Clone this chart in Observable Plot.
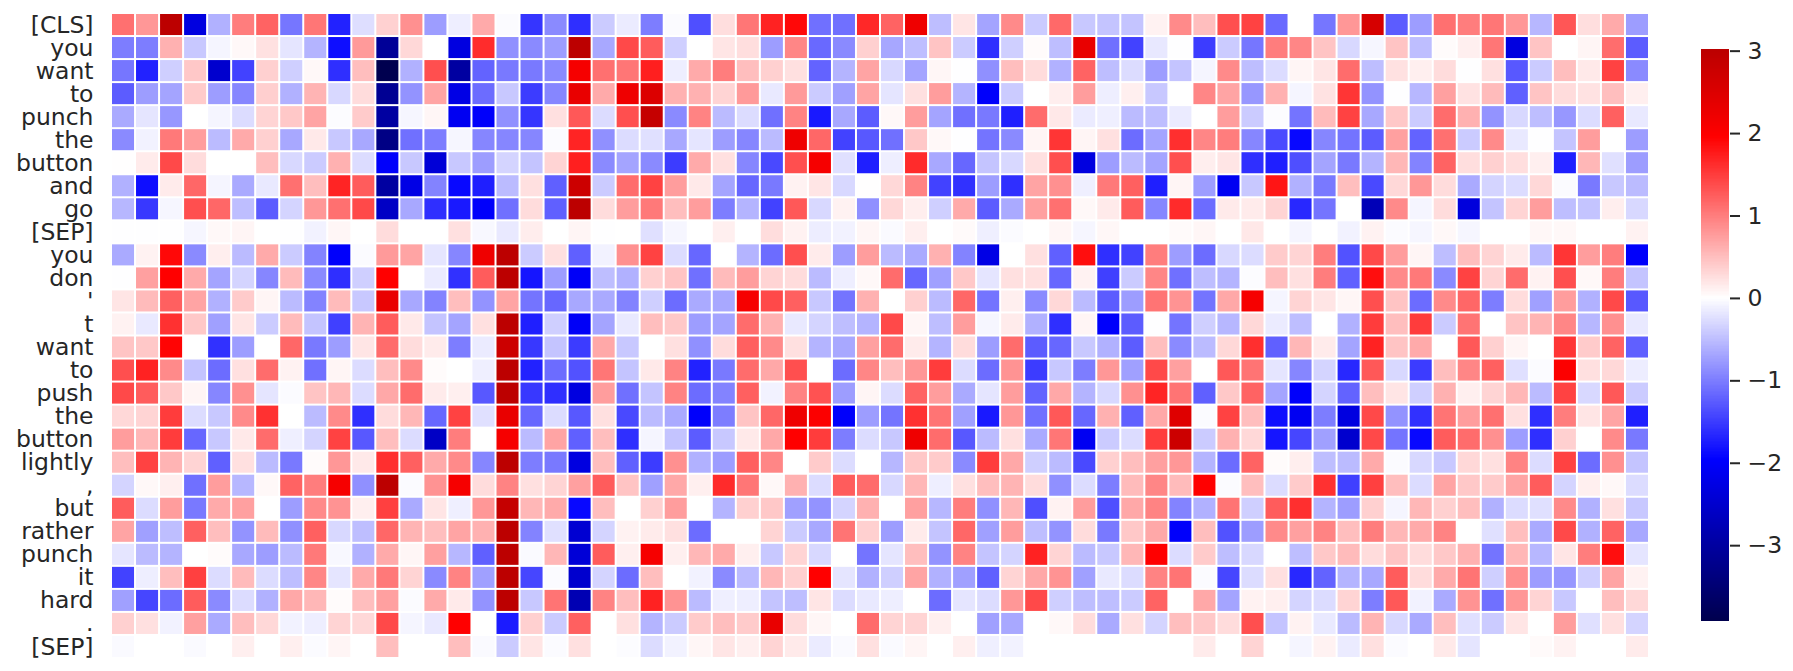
<!DOCTYPE html>
<html>
<head>
<meta charset="utf-8">
<script src="https://cdn.jsdelivr.net/npm/d3@7"></script>
<script src="https://cdn.jsdelivr.net/npm/@observablehq/plot@0.6"></script>
<style>
html,body{margin:0;padding:0;background:#fff}
#wrap{position:relative;width:1793px;height:671px;overflow:hidden}
#wrap>svg{position:absolute;top:0}
</style>
</head>
<body>
<div id="wrap"></div>
<script>
const tokens = ["[CLS]","you","want","to","punch","the","button","and","go","[SEP]","you","don","'","t","want","to","push","the","button","lightly",",","but","rather","punch","it","hard",".","[SEP]"];

const r00 = [1.1,.8,3.0,-2.3,-.6,1.0,1.2,-1.05,1.05,-1.7,-.25,.35,.85,-.75,-.13,.65,-.03,-1.55,-.9,-1.6,-.4,-.15,-1,-.03,-1.35,.25,1.05,1.7,1.9,-1.1,-1.1,1.65,1.2,2.2,-.5,.2,-.7,.9,-.4,1.15,-.42,-.45,-.45,.1,.9,.5,1.35,1.45,-1.15,0,-1.05,.8,2.6,-1.25,-.75,1.1,1.0,1.05,.8,-.55,1.3,.25,.65,-.75];
const r01 = [-1,-1,.6,-.42,-.08,.05,.23,-.2,-.58,-1.85,.78,-3.1,.3,0,-2.3,1.62,-.85,-.9,-.75,3.0,-.67,1.4,1.25,-.37,0,.2,.25,-.75,.93,-1.15,-.9,.36,-.68,-.5,.45,-.4,-1.6,-.37,.03,-.5,2.3,-1.1,-1.45,-.18,-.01,-1.5,-.4,-1.05,1,.93,.45,-.3,-.07,.45,-.5,.03,.12,1.05,-2.3,.45,0,.08,1.12,-1.25];
const r02 = [-1.05,-1.7,-.37,.42,-2.5,-1.45,.36,-.37,.05,-1.6,.5,-3.9,-.6,1.35,-3.0,-1.2,-1.03,-1.03,-.9,2.1,1.1,1.05,1.72,-.13,.65,1,.5,.36,.24,-1.2,-.58,.7,-.3,-.7,.07,-.01,-.85,.5,.27,-.6,1.2,-.5,-.27,-.75,-.45,-.08,.9,-.5,-.27,.08,.2,1.13,-.5,.23,.12,.27,-.01,.24,-1.28,-.4,.5,.17,1.45,-.9];
const r03 = [-1.25,-.75,-.7,.4,-.75,-.93,.37,-.6,.58,-.3,.27,-3.15,-.83,.7,-2.25,-1.13,-.42,-1.5,-.93,2.3,.65,2.2,2.5,.6,.6,.33,.78,-.17,.78,-.4,-.73,.7,-.2,.24,.75,-.58,-2,-.4,0,.13,.75,-.13,.12,-.42,0,.93,.7,-.8,.6,-.08,.22,1.55,-.83,-.01,-.55,.73,.22,.52,-1.22,.45,.27,.22,.5,.12];
const r04 = [-.65,-.2,-.8,0,-.08,-.27,.33,.42,.7,-.02,.4,-3.0,-.07,.07,-2.1,-2,-.85,-1.55,.24,1.28,-.27,1.35,2.85,-.9,.95,-.52,-.27,-1.1,.95,-1.77,-.67,-1.25,.05,.75,-.7,-1.1,-1.03,-1.72,1.13,.18,-.15,-.12,-.52,-.5,-.15,0,.75,-.4,-.02,-1.07,.52,1.45,-.67,.42,-.4,1.13,.6,-.83,-.3,-.5,-.8,-.27,1.22,-.17];
const r05 = [-.9,-.1,1.03,.75,-.52,.65,.36,-.67,.17,-.42,-.67,-3.3,-1.1,-1,-.07,-.93,-.93,-.93,-.03,1.68,-.85,-.27,-.24,-.67,-.2,-.75,-.93,-.52,2.2,1.17,-1.45,-1.28,-1.1,.42,.05,-.01,-1.07,-.9,.08,1.55,.08,.24,-1.13,-.7,1.6,.93,1,-.93,-1.4,-1.9,-.93,-1.07,-1.25,.73,-1.2,1.1,-.4,.9,-.17,-.01,-.45,.75,0,-.75];
const r06 = [.01,.15,1.4,.27,0,0,.5,-.3,-.4,.6,-.27,-2,-.42,-2.4,-.42,-.75,-.33,-.45,.33,1.72,-.9,-.7,-.9,-1.5,.65,.24,-.93,-1.4,1.35,2.1,-.24,-1.72,-.13,1.63,-.67,-1.17,-.45,-.3,.24,1.35,-2.3,-.75,-.52,-.7,1.35,.13,.2,-1.6,-1.72,-1.35,-.7,-1.03,-.58,.55,-.95,1.2,.25,.36,.25,.12,-1.72,.55,-.24,-.75];
const r07 = [-.6,-1.85,.15,1.17,-.08,-.65,-.17,1.1,.5,1.68,1.25,-3,-2.25,-.95,-1.9,-1.72,-.52,.24,-1.22,2.75,-.4,1.13,1.45,.75,.17,-.7,-1.17,-1.03,.1,.2,-.3,.01,.3,.95,-1.45,-1.58,-.75,-1.6,.7,.85,-.12,1.03,1.22,-1.72,.08,-.75,-2.1,-.42,1.8,-.6,-1.03,.5,-1.4,.3,.8,.27,-.65,-.33,-.27,.3,-.03,-1.03,-.42,-.52];
const r08 = [-.55,-1.53,-.07,1.35,1.17,-.5,-1.25,-.33,.8,1.1,1.4,-2.6,-.67,-1.6,-1.77,-2,-1.1,.27,-1.22,3.0,.27,.75,1.03,.5,.75,-1,-.58,-1.45,1.28,-.3,.1,-.85,.3,.13,-.37,.65,-1.25,-.65,.73,1.1,.05,.16,1.25,-.93,1.63,-1.13,.16,.15,.33,-1.65,-1.07,0,-2.75,.9,-.08,.27,-2.35,-.45,.33,.75,-.5,-.45,.13,-.3];
const r09 = [-.01,-.01,-.01,-.07,.05,.08,0,-.01,-.1,.07,0,.27,0,0,.24,-.05,-.17,.14,0,.08,-.01,0,-.24,-.07,0,.12,0,.26,.1,-.14,-.1,.07,-.04,.12,0,.04,-.12,-.03,0,.07,-.07,.06,0,0,.04,.07,0,.18,0,-.08,0,-.1,.1,-.03,-.07,.05,-.07,0,0,.06,.05,0,0,.1];
const r10 = [-.65,.1,1.9,-.9,.13,-.52,.65,-.4,-.95,-2,-.03,.78,.7,-.2,-.93,2.2,3.0,-.4,.24,-1.22,-.1,.85,1.45,-.27,-1.17,0,-.58,-1.13,1.35,.15,-.75,.75,-.52,-.65,.6,-.95,-2.25,0,.24,-1.22,1.85,-1.6,-1.45,1,-.75,-1.13,-.3,-.27,.4,.33,1,-1.33,1.4,.75,.08,-.5,.5,.33,.15,-.52,1.55,.75,1,-2];
const r11 = [-.01,.73,1.96,.65,-.7,-.33,-.93,.52,-.9,-1.6,-.37,1.96,0,-.15,-1.58,1.25,3.0,-1.8,-.75,-2.05,-.5,-.6,.36,.45,-1.1,.52,.75,.33,.27,-.52,-.13,.05,1.13,-1.17,-.73,.42,-.2,.24,.24,-1.17,.1,-1.47,-.4,.93,-1.1,-.5,-.58,-.02,.5,.24,1,-1.22,1.85,.9,1.03,-.9,1.45,.33,1.13,.1,1.35,.05,1,-.45];
const r12 = [.2,.52,1.22,.7,-.6,.4,.08,-.52,-.95,.52,-.42,2.3,-.67,-.95,.5,-.83,.7,-1.07,-1.17,-.67,-.65,-.95,-.37,-1.13,-.65,-.67,2.1,1.4,1.22,-.42,-1.07,.6,0,.36,-.52,1.17,-1.07,.12,-.9,.3,-.52,-1.25,-.75,1.07,.83,-1.07,.67,2.1,-.08,.33,.2,.07,1.35,.45,-1.13,.9,1.17,-1,.27,-.73,.75,-.6,1.4,-1.28];
const r13 = [.1,-.17,1.58,.42,-.73,.2,-.4,.52,-.45,-1.47,.58,1.25,.17,-.45,-.7,.24,3.0,-1.72,-.37,-2.05,-.7,-.17,.5,.42,-.75,-.7,1.13,.6,-.17,-.33,-.5,-.58,1.4,.07,-.5,.75,-.07,.15,-.6,-1.6,.08,-2,-1.25,-.01,-1.07,-.37,-.55,.3,-.15,-.5,0,-.6,1.5,.5,1.5,-.4,1.07,0,.45,.58,.93,-.55,.85,-.17];
const r14 = [.45,.42,1.93,0,-1.58,-.75,0,1.17,-1.03,-.75,.2,1.13,.27,.15,-1,-.15,2.75,-1.53,-.45,-1.5,.67,-.42,0,.24,-.85,.27,1.22,.9,.24,-.58,-.67,.73,1.13,.15,-.58,.27,-.75,1.13,-1.25,-1.17,-.42,-.6,-1.25,.5,-.9,-.52,.3,1.6,-1.22,.55,.15,-.7,1.7,.45,.65,0,1.28,.36,.08,0,1.55,.4,1.2,-1.22];
const r15 = [1.35,1.7,.9,-.45,-1.13,.24,1.13,.1,-1.1,.08,-.27,.5,.9,.03,0,-.12,3.0,-1.7,-1.13,-1.33,1.05,-.45,.17,.95,-1.7,-1.03,1.13,.67,1.35,0,-1.13,.93,.5,.8,1.5,-.27,-1.13,.83,-1.5,-.42,-1,.8,-.73,1.4,.73,0,1.28,1.07,-.2,-.93,-.33,-1.65,1.28,-.3,-1.5,.5,.93,1.22,-.24,-.03,2.0,.24,.3,-.14];
const r16 = [1.4,1.25,.42,.08,-.93,.85,-.2,-.03,.45,.55,-.27,.67,1.13,.15,.12,-1.28,3.0,-1.53,-1.6,-2.3,.75,-1.1,-.45,.95,-1.13,-.95,1.22,-.1,.95,1.33,-.75,.08,-.27,1.2,.75,-.65,-.2,.75,-1.2,.67,-.58,-.3,.85,1.68,1.07,-1.22,.42,1.2,-.7,-2,-.33,-1.2,.5,.2,-.37,.6,.12,.33,.55,-.52,1.45,-.3,1.28,-.4];
const r17 = [.3,.33,1.5,-.27,-.42,.9,1.58,0,-.52,.9,-1.6,.27,.55,-1.17,1.45,-.24,2.3,-1.17,-.27,-1.28,.24,-1.4,-.52,-.65,-2,-1,.45,1.17,2.2,2.0,-2,-.75,-1.07,1.58,1.07,-.73,-1.77,.8,-1.1,1.28,-1.17,.6,-1.22,.67,2.45,-.03,1.45,.5,-1.85,-2.1,-1,-2.3,1.4,-.83,-1.58,1.07,.75,1.1,.24,-1.6,1,.2,.7,-1.72];
const r18 = [.75,.55,1.5,-1.17,-.42,.17,1.13,-.12,-.33,1.45,-1.28,.5,-.27,-2.6,1,0,2.1,-.52,.7,-1.22,.5,-1.6,-.08,-.45,-1.25,-.42,.17,.67,1.96,1.5,-1,-.27,-.42,2.2,1.13,-1.28,-.52,.24,-.65,1.05,-2.1,-.4,-.27,1.5,2.75,-.4,.6,.3,-1.8,-1.42,-.73,-2.5,1.4,-1.07,-1.9,1.25,1.13,.85,-.75,-1.6,.36,0,.9,-1.03];
const r19 = [.5,1.45,.58,.33,-1.22,.24,-.52,-1.03,.03,.8,.17,1.6,1.22,.65,.9,-.93,3.0,-1,-1.03,-2.3,.5,-1.22,-1.5,.85,-.6,-.75,1.22,.93,0,.4,-.27,0,-.55,.42,.4,-.9,1.5,.67,-.37,-.52,-1.4,.36,.5,.73,.8,-.58,-1.13,1.2,.03,.13,-.5,-.52,.65,-.03,-.3,-.42,.3,.24,.95,-.27,1.45,-1.13,.85,-.45];
const r20 = [-.33,.05,.12,-1.1,.75,-.55,.05,1.2,1,2.1,-.85,3.0,-.03,.83,2.1,.27,.95,.24,.33,.73,1.25,.45,-.73,.67,.12,1.63,1.05,.05,.6,-.27,1.25,1.13,-.3,.55,-.13,.24,.5,.58,.27,-.85,-.27,-1,.52,.93,.52,1.96,-.03,.5,-.27,.4,1.58,-1.47,1.47,.5,-.27,.7,.42,.4,.7,1.25,-.33,.12,.05,-.27];
const r21 = [1.25,-.27,.75,-1.03,.65,.73,0,-.75,.9,.83,.12,1.47,-.65,.2,-.12,.8,2.85,.55,.65,-1.9,.5,0,.36,.75,0,-.58,.36,.42,-.73,-.83,-.33,.6,0,.73,-.55,1,-.85,.55,-1.35,.1,.75,-1.35,.67,.95,-.95,-.6,1.07,-.37,1.25,1.6,-.58,-.75,.36,-.08,.55,.36,.5,-.6,-.27,-.24,.9,-.6,.24,-.42];
const r22 = [.7,-.73,-.5,1.22,.5,-.83,.52,-.85,1.22,-.3,-.5,1.17,.58,.5,.7,.6,3.0,-.95,-.24,-2.45,-.33,.1,.15,.24,-1.13,0,0,.33,-.4,-.67,1.07,.36,-.75,.15,-.45,1.17,-.73,.75,-.5,-.83,.27,-1.03,.42,.67,-2,.5,-1.33,-.75,.9,.73,.95,.5,1,.55,.65,.95,0,-.24,.5,-.65,1.4,-.6,1.2,-.67];
const r23 = [-.2,-.52,-.58,0,.03,-.67,-.75,-.52,1.03,-.05,-.6,.65,.07,.73,-.55,-1.22,3.0,-.04,.55,-2.4,1.25,.12,2.1,.12,.55,.65,.12,-.42,.33,-.3,0,-1.07,-.2,.5,-.83,.95,-.45,-.33,1.7,.33,-.52,-.42,.55,1.96,-.27,.4,-.5,-.3,0,-.5,.42,.52,.27,.45,.27,.42,.6,-1.07,.55,-.55,.2,1,1.85,-.2];
const r24 = [-1.45,-.13,.5,1.47,-.27,.52,-.27,-.5,.93,-.2,.65,1.03,.33,-.9,.95,-.73,3.0,-1.42,-.03,-2.5,-.33,-1.13,.5,0,-.1,-.9,-.52,.55,.36,1.96,-.2,-.6,-.37,.7,-.6,-.73,-1.22,.33,.67,.83,-.73,-.17,-.27,.95,1.07,-.03,-1.42,-.27,.24,-1.65,-1.2,-.58,-.67,1.25,.27,.65,1.07,-.37,.85,-.75,-.8,-.37,.7,.1];
const r25 = [-.73,-1.42,-1.13,1.25,-.9,-.27,-.6,.67,.55,.03,.5,.73,-.03,.65,.16,-.83,3.0,-.42,1.07,-2.8,.95,.5,1.7,.83,-.52,-.12,-.13,-.45,-.5,.2,-.27,-.17,-.13,0,-1.13,-.2,-.27,.8,1.4,-.37,-.5,-.5,-.4,1.2,0,.67,-.7,.1,.12,-.33,-.27,.33,-1,1.28,-.1,-.65,.83,-1.1,.8,.33,-.42,0,.5,.3];
const r26 = [.36,.24,-.1,.73,-.65,.5,.3,-.1,-.13,.33,.3,1.4,-.08,-.17,1.96,0,-1.75,.36,-.4,1.22,0,.24,-.58,-.4,.4,.5,.4,2.3,.27,.07,0,1.13,.33,.33,.12,0,-.73,-.67,0,.05,.27,-.65,.24,-.33,.5,.42,.27,1.35,-.45,.1,-.17,-.52,.58,-.3,-.65,.5,-.24,-.4,.2,0,.75,-.24,.24,-.33];
const r27 = [-.04,0,0,-.04,0,.12,0,.12,-.03,.08,0,.5,0,0,.5,-.04,-.4,.2,-.03,.24,0,-.02,-.27,-.1,.07,.2,.12,.33,.16,-.15,-.04,.24,-.04,.08,0,.12,-.12,-.1,0,0,0,0,0,0,0,.15,0,.33,0,-.08,.1,-.15,.24,-.03,0,.17,-.2,0,0,.04,.1,0,0,.15];

const rowValues = [r00,r01,r02,r03,r04,r05,r06,r07,r08,r09,r10,r11,r12,r13,r14,r15,r16,r17,r18,r19,r20,r21,r22,r23,r24,r25,r26,r27];
const cbarTicks = [-3,-2,-1,0,1,2,3];
const dataMin = -3.92, dataMax = 3.02;

const cells = rowValues.flatMap((vals,row)=>vals.map((value,col)=>({row,col,value})));
const colorScale = {
  type:"linear",
  domain:[-3.92,-1.96,0,1.96,3.92],
  range:["#00004d","#0000ff","#ffffff","#ff0000","#800000"],
  interpolate:"rgb",
  clamp:true
};
const ink = "#262626";
const family = "'DejaVu Sans'";

const main = Plot.plot({
  width:1660, height:671,
  marginLeft:111, marginRight:11, marginTop:13, marginBottom:13,
  style:{fontFamily:family, background:"transparent"},
  x:{type:"band", domain:d3.range(64), padding:0, round:false, axis:null},
  y:{type:"band", domain:d3.range(tokens.length), padding:0, round:false, axis:null},
  color:colorScale,
  marks:[
    Plot.cell(cells,{x:"col",y:"row",fill:"value",inset:1}),
    Plot.axisY({anchor:"left",tickSize:0,tickPadding:18,label:null,fontSize:23.5,fill:ink,tickFormat:i=>tokens[i]})
  ]
});
main.style.left="0px";

const steps = d3.range(dataMin,dataMax,(dataMax-dataMin)/400);
const dy = (dataMax-dataMin)/400;
const bar = Plot.plot({
  width:92, height:671,
  marginLeft:0, marginRight:64, marginTop:49, marginBottom:50,
  style:{fontFamily:family, background:"transparent"},
  y:{type:"linear", domain:[dataMin,dataMax], axis:null},
  color:colorScale,
  marks:[
    Plot.rectY(steps,{y1:d=>d,y2:d=>Math.min(d+dy*1.5,dataMax),fill:d=>d+dy/2,shapeRendering:"crispEdges"}),
    Plot.axisY(cbarTicks,{anchor:"right",tickSize:10,tickPadding:8,strokeWidth:2,stroke:ink,label:null,fontSize:23.5,fill:ink,tickFormat:d=>d<0?"\u2212"+(-d):String(d)})
  ]
});
bar.style.left="1701px";

const wrap=document.getElementById("wrap");
wrap.append(main,bar);
</script>
</body>
</html>
